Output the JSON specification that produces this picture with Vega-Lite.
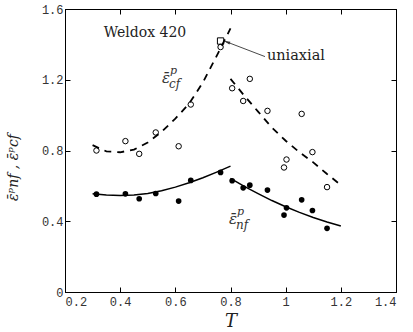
{
  "$schema": "https://vega.github.io/schema/vega-lite/v6.json",
  "width": 331,
  "height": 283,
  "autosize": "none",
  "padding": {"left": 65, "top": 9, "right": 17, "bottom": 40},
  "background": "white",
  "config": {
    "view": {"stroke": "#000", "strokeWidth": 1},
    "axis": {
      "grid": false,
      "domainColor": "#000",
      "tickColor": "#000",
      "tickSize": -5,
      "labelFont": "Liberation Mono, DejaVu Sans Mono, monospace",
      "labelFontSize": 12,
      "labelColor": "#333",
      "titleFont": "DejaVu Serif, Liberation Serif, serif",
      "titleFontStyle": "italic",
      "titleFontWeight": "normal",
      "titleColor": "#222"
    }
  },
  "datasets": {
    "pts": [
      {"T": 0.314, "nf": 0.553, "cf": 0.800},
      {"T": 0.419, "nf": 0.555, "cf": 0.853},
      {"T": 0.469, "nf": 0.527, "cf": 0.781},
      {"T": 0.529, "nf": 0.557, "cf": 0.902},
      {"T": 0.612, "nf": 0.514, "cf": 0.824},
      {"T": 0.656, "nf": 0.631, "cf": 1.060},
      {"T": 0.764, "nf": 0.676, "cf": 1.385},
      {"T": 0.806, "nf": 0.629, "cf": 1.152},
      {"T": 0.846, "nf": 0.589, "cf": 1.080},
      {"T": 0.870, "nf": 0.604, "cf": 1.205},
      {"T": 0.934, "nf": 0.576, "cf": 1.024},
      {"T": 0.994, "nf": 0.435, "cf": 0.704},
      {"T": 1.003, "nf": 0.476, "cf": 0.749},
      {"T": 1.058, "nf": 0.521, "cf": 1.007},
      {"T": 1.097, "nf": 0.461, "cf": 0.791},
      {"T": 1.150, "nf": 0.360, "cf": 0.593}
    ],
    "curves": [
      {"seg": "nfL", "T": 0.30, "v": 0.556},
      {"seg": "nfL", "T": 0.35, "v": 0.548},
      {"seg": "nfL", "T": 0.40, "v": 0.545},
      {"seg": "nfL", "T": 0.45, "v": 0.548},
      {"seg": "nfL", "T": 0.50, "v": 0.557},
      {"seg": "nfL", "T": 0.55, "v": 0.572},
      {"seg": "nfL", "T": 0.60, "v": 0.593},
      {"seg": "nfL", "T": 0.65, "v": 0.618},
      {"seg": "nfL", "T": 0.70, "v": 0.646},
      {"seg": "nfL", "T": 0.75, "v": 0.678},
      {"seg": "nfL", "T": 0.80, "v": 0.712},
      {"seg": "nfR", "T": 0.80, "v": 0.642},
      {"seg": "nfR", "T": 0.85, "v": 0.597},
      {"seg": "nfR", "T": 0.90, "v": 0.556},
      {"seg": "nfR", "T": 0.95, "v": 0.517},
      {"seg": "nfR", "T": 1.00, "v": 0.482},
      {"seg": "nfR", "T": 1.05, "v": 0.450},
      {"seg": "nfR", "T": 1.10, "v": 0.421},
      {"seg": "nfR", "T": 1.15, "v": 0.396},
      {"seg": "nfR", "T": 1.20, "v": 0.373},
      {"seg": "cfL", "T": 0.30, "v": 0.830},
      {"seg": "cfL", "T": 0.35, "v": 0.795},
      {"seg": "cfL", "T": 0.40, "v": 0.790},
      {"seg": "cfL", "T": 0.45, "v": 0.805},
      {"seg": "cfL", "T": 0.50, "v": 0.845},
      {"seg": "cfL", "T": 0.55, "v": 0.905},
      {"seg": "cfL", "T": 0.60, "v": 0.980},
      {"seg": "cfL", "T": 0.65, "v": 1.065},
      {"seg": "cfL", "T": 0.70, "v": 1.185},
      {"seg": "cfL", "T": 0.75, "v": 1.335},
      {"seg": "cfL", "T": 0.80, "v": 1.490},
      {"seg": "cfR", "T": 0.80, "v": 1.205},
      {"seg": "cfR", "T": 0.85, "v": 1.110},
      {"seg": "cfR", "T": 0.90, "v": 1.020},
      {"seg": "cfR", "T": 0.95, "v": 0.930},
      {"seg": "cfR", "T": 1.00, "v": 0.855},
      {"seg": "cfR", "T": 1.05, "v": 0.790},
      {"seg": "cfR", "T": 1.10, "v": 0.733},
      {"seg": "cfR", "T": 1.15, "v": 0.667},
      {"seg": "cfR", "T": 1.20, "v": 0.605}
    ],
    "labels": [
      {"T": 0.566, "v": 1.211, "sub": "cf"},
      {"T": 0.809, "v": 0.410, "sub": "nf"}
    ]
  },
  "layer": [
    {
      "data": {"name": "curves"},
      "transform": [{"filter": "indexof(datum.seg, 'nf') == 0"}],
      "mark": {"type": "line", "color": "#000", "strokeWidth": 1.5},
      "encoding": {
        "x": {"field": "T", "type": "quantitative", "scale": {"domain": [0.2, 1.4], "nice": false, "zero": false},
              "axis": {"orient": "bottom", "values": [0.2, 0.4, 0.6, 0.8, 1, 1.2, 1.4], "format": "~g", "title": "T", "titleFontSize": 18, "labelPadding": 9, "titlePadding": 5}},
        "y": {"field": "v", "type": "quantitative", "scale": {"domain": [0, 1.6], "nice": false},
              "axis": {"orient": "left", "values": [0, 0.4, 0.8, 1.2, 1.6], "format": "~g", "labelPadding": 7, "title": "ε̄ᵖnf , ε̄ᵖcf", "titleFontSize": 14, "titleX": -45, "titleY": 158}},
        "detail": {"field": "seg"}
      }
    },
    {
      "data": {"name": "curves"},
      "transform": [{"filter": "indexof(datum.seg, 'cf') == 0"}],
      "mark": {"type": "line", "color": "#000", "strokeWidth": 1.8, "strokeDash": [7, 6]},
      "encoding": {
        "x": {"field": "T", "type": "quantitative", "axis": {"orient": "top", "values": [0.2, 0.4, 0.6, 0.8, 1, 1.2, 1.4], "labels": false, "title": null}},
        "y": {"field": "v", "type": "quantitative", "axis": {"orient": "right", "values": [0, 0.4, 0.8, 1.2, 1.6], "labels": false, "title": null}},
        "detail": {"field": "seg"}
      }
    },
    {
      "data": {"name": "pts"},
      "mark": {"type": "point", "shape": "circle", "filled": true, "color": "#000", "size": 32, "opacity": 1},
      "encoding": {
        "x": {"field": "T", "type": "quantitative", "axis": null},
        "y": {"field": "nf", "type": "quantitative", "axis": null}
      }
    },
    {
      "data": {"name": "pts"},
      "mark": {"type": "point", "shape": "circle", "filled": false, "color": "#000", "size": 30, "strokeWidth": 1, "opacity": 1},
      "encoding": {
        "x": {"field": "T", "type": "quantitative", "axis": null},
        "y": {"field": "cf", "type": "quantitative", "axis": null}
      }
    },
    {
      "data": {"values": [{"T": 0.764, "v": 1.419}]},
      "mark": {"type": "point", "shape": "square", "filled": false, "color": "#000", "size": 40, "strokeWidth": 1, "opacity": 1},
      "encoding": {
        "x": {"field": "T", "type": "quantitative", "axis": null},
        "y": {"field": "v", "type": "quantitative", "axis": null}
      }
    },
    {
      "data": {"values": [{"T": 0.925, "v": 1.331, "T2": 0.781, "v2": 1.417}]},
      "mark": {"type": "rule", "color": "#333", "strokeWidth": 0.9},
      "encoding": {
        "x": {"field": "T", "type": "quantitative", "axis": null},
        "y": {"field": "v", "type": "quantitative", "axis": null},
        "x2": {"field": "T2"},
        "y2": {"field": "v2"}
      }
    },
    {
      "data": {"values": [{"T": 0.787, "v": 1.413}]},
      "mark": {"type": "point", "shape": "M -1 0 L 1 -0.45 L 1 0.45 Z", "filled": true, "color": "#333", "size": 40, "angle": 20, "opacity": 1},
      "encoding": {
        "x": {"field": "T", "type": "quantitative", "axis": null},
        "y": {"field": "v", "type": "quantitative", "axis": null}
      }
    },
    {
      "data": {"values": [{"T": 0.49, "v": 1.465, "txt": "Weldox 420"}]},
      "mark": {"type": "text", "font": "DejaVu Serif, Liberation Serif, serif", "fontSize": 14, "color": "#222", "align": "center", "baseline": "middle"},
      "encoding": {
        "x": {"field": "T", "type": "quantitative", "axis": null},
        "y": {"field": "v", "type": "quantitative", "axis": null},
        "text": {"field": "txt"}
      }
    },
    {
      "data": {"values": [{"T": 0.932, "v": 1.333, "txt": "uniaxial"}]},
      "mark": {"type": "text", "font": "DejaVu Serif, Liberation Serif, serif", "fontSize": 14.5, "color": "#222", "align": "left", "baseline": "middle"},
      "encoding": {
        "x": {"field": "T", "type": "quantitative", "axis": null},
        "y": {"field": "v", "type": "quantitative", "axis": null},
        "text": {"field": "txt"}
      }
    },
    {
      "data": {"name": "labels"},
      "mark": {"type": "text", "font": "DejaVu Serif, Liberation Serif, serif", "fontStyle": "italic", "fontSize": 15, "color": "#333", "align": "center", "baseline": "middle", "text": "ε̄"},
      "encoding": {
        "x": {"field": "T", "type": "quantitative", "axis": null},
        "y": {"field": "v", "type": "quantitative", "axis": null}
      }
    },
    {
      "data": {"name": "labels"},
      "mark": {"type": "text", "font": "DejaVu Serif, Liberation Serif, serif", "fontStyle": "italic", "fontSize": 11, "color": "#333", "align": "left", "baseline": "middle", "text": "p", "dx": 4, "dy": -7},
      "encoding": {
        "x": {"field": "T", "type": "quantitative", "axis": null},
        "y": {"field": "v", "type": "quantitative", "axis": null}
      }
    },
    {
      "data": {"name": "labels"},
      "mark": {"type": "text", "font": "DejaVu Serif, Liberation Serif, serif", "fontStyle": "italic", "fontSize": 12, "color": "#333", "align": "left", "baseline": "middle", "dx": 3, "dy": 6},
      "encoding": {
        "x": {"field": "T", "type": "quantitative", "axis": null},
        "y": {"field": "v", "type": "quantitative", "axis": null},
        "text": {"field": "sub"}
      }
    }
  ],
  "resolve": {"axis": {"x": "independent", "y": "independent"}}
}
